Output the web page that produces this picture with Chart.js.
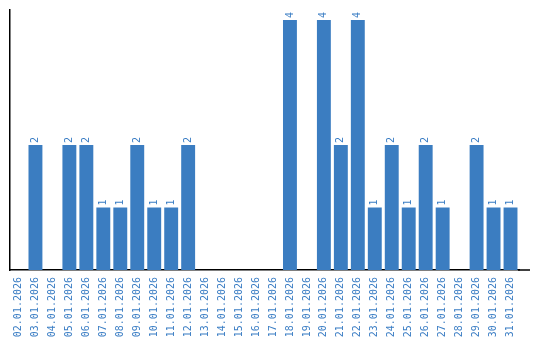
<!DOCTYPE html>
<html>
<head>
<meta charset="utf-8">
<script src="https://cdn.jsdelivr.net/npm/chart.js@4"></script>
<style>
  body { margin: 0; background: #fff; }
</style>
</head>
<body>
<canvas id="grafico" width="540" height="340"></canvas>
<script>
// Datas e contagens por dia
const days = [
    '02.01.2026', '03.01.2026', '04.01.2026', '05.01.2026', '06.01.2026',
    '07.01.2026', '08.01.2026', '09.01.2026', '10.01.2026', '11.01.2026',
    '12.01.2026', '13.01.2026', '14.01.2026', '15.01.2026', '16.01.2026',
    '17.01.2026', '18.01.2026', '19.01.2026', '20.01.2026', '21.01.2026',
    '22.01.2026', '23.01.2026', '24.01.2026', '25.01.2026', '26.01.2026',
    '27.01.2026', '28.01.2026', '29.01.2026', '30.01.2026', '31.01.2026'
];
const counts = [
    0, 2, 0, 2, 2,
    1, 1, 2, 1, 1,
    2, 0, 0, 0, 0,
    0, 4, 0, 4, 2,
    4, 1, 2, 1, 2,
    1, 0, 2, 1, 1
];

const barColor = '#3b7dc1';
const textColor = '#3a7dc4';
const monoFont = '"DejaVu Sans Mono", monospace';

// Rótulos de valor rotacionados acima das barras
const valueLabels = {
    id: 'valueLabels',
    afterDatasetsDraw(chart) {
        const ctx = chart.ctx;
        const meta = chart.getDatasetMeta(0);
        ctx.save();
        ctx.fillStyle = textColor;
        ctx.font = '10px ' + monoFont;
        ctx.textAlign = 'left';
        ctx.textBaseline = 'middle';
        meta.data.forEach((bar, i) => {
            const v = counts[i];
            if (!v) return;
            ctx.save();
            ctx.translate(bar.x, bar.y - 2);
            ctx.rotate(-Math.PI / 2);
            ctx.fillText(String(v), 0, 0);
            ctx.restore();
        });
        ctx.restore();
    },
    afterDraw(chart) {
        // prolonga a linha do eixo x até a borda direita
        const { ctx, chartArea } = chart;
        ctx.save();
        ctx.strokeStyle = '#000';
        ctx.lineWidth = 1.5;
        ctx.beginPath();
        ctx.moveTo(chartArea.right - 1, chartArea.bottom);
        ctx.lineTo(530, chartArea.bottom);
        ctx.stroke();
        ctx.restore();
    }
};

new Chart(document.getElementById('grafico').getContext('2d'), {
    type: 'bar',
    data: {
        labels: days,
        datasets: [{
            data: counts,
            backgroundColor: barColor,
            borderWidth: 0,
            barPercentage: 0.82,
            categoryPercentage: 1.0
        }]
    },
    options: {
        responsive: false,
        animation: false,
        layout: { padding: { top: 10, left: 9, right: 21, bottom: 0 } },
        plugins: {
            legend: { display: false },
            tooltip: { enabled: false }
        },
        scales: {
            x: {
                grid: { display: false, drawTicks: false },
                border: { display: true, color: '#000', width: 1.5 },
                ticks: {
                    autoSkip: false,
                    minRotation: 90,
                    maxRotation: 90,
                    padding: 7,
                    color: textColor,
                    font: { family: monoFont, size: 10 }
                },
                afterFit(axis) { axis.height = 70; }
            },
            y: {
                min: 0,
                max: 4.16,
                grid: { display: false, drawTicks: false },
                border: { display: true, color: '#000', width: 1.5 },
                ticks: { display: false },
                afterFit(axis) { axis.width = 1; }
            }
        }
    },
    plugins: [valueLabels]
});
</script>
</body>
</html>
